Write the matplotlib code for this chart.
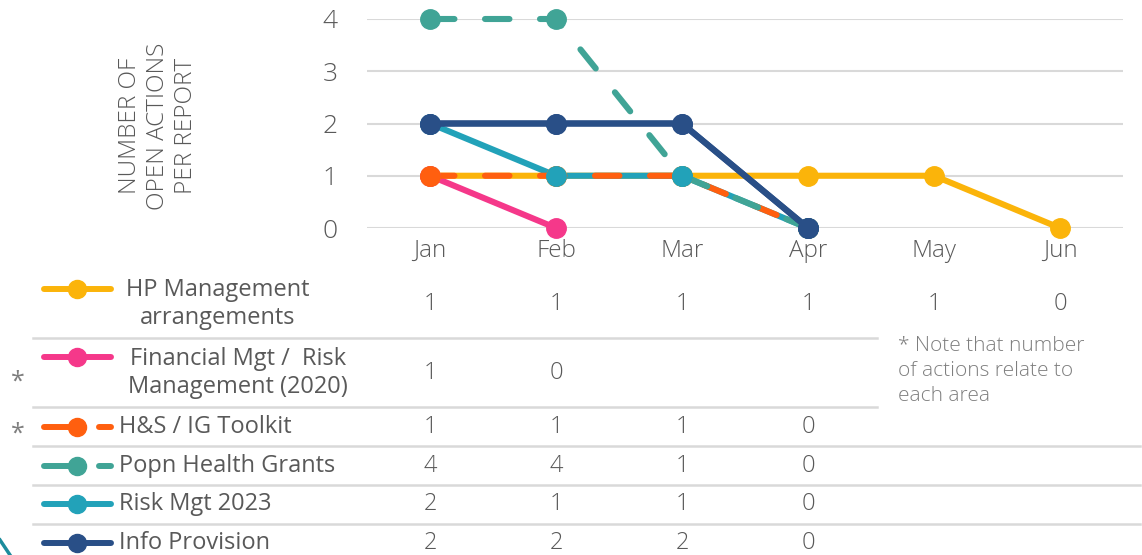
import numpy as np
import matplotlib.pyplot as plt
from matplotlib.lines import Line2D
from matplotlib.transforms import blended_transform_factory

months = ["Jan", "Feb", "Mar", "Apr", "May", "Jun"]
series_names = ["HP Management\narrangements", "Financial Mgt /  Risk\nManagement (2020)",
                "H&S / IG Toolkit", "Popn Health Grants", "Risk Mgt 2023", "Info Provision"]
hp_mgmt = [1, 1, 1, 1, 1, 0]
fin_risk = [1, 0, np.nan, np.nan, np.nan, np.nan]
hs_ig = [1, 1, 1, 0, np.nan, np.nan]
popn_health = [4, 4, 1, 0, np.nan, np.nan]
risk_2023 = [2, 1, 1, 0, np.nan, np.nan]
info_prov = [2, 2, 2, 0, np.nan, np.nan]
starred = [False, True, True, False, False, False]
note = "* Note that number\nof actions relate to\neach area"

colors = ["#FBB40A", "#F5388A", "#FF5F0F", "#40A496", "#22A2B9", "#294F87"]
dashed = [False, False, True, True, False, False]
all_series = [hp_mgmt, fin_risk, hs_ig, popn_health, risk_2023, info_prov]

plt.rcParams['font.family'] = ['Open Sans', 'DejaVu Sans']
gray = "#595959"

W, H = 1142, 555
fig = plt.figure(figsize=(W / 100, H / 100), dpi=100)
ax = fig.add_axes([367 / W, 1 - 228 / H, 756 / W, 209 / H])

x = np.arange(len(months))
# lines: dashed H&S drawn over Risk Mgt 2023 as in the original
line_order = [0, 1, 4, 2, 3, 5]
for k, i in enumerate(line_order):
    ls = (0, (4, 5)) if dashed[i] else "-"
    ax.plot(x, all_series[i], color=colors[i], lw=4.4, ls=ls,
            solid_capstyle="round", dash_capstyle="round", clip_on=False, zorder=3 + k * 0.1)
for i, (vals, c) in enumerate(zip(all_series, colors)):
    ax.plot(x, vals, color=c, lw=0, marker="o", ms=14, clip_on=False, zorder=4 + i * 0.1)
# keep the dark blue line above the other markers
ax.plot(x, info_prov, color=colors[5], lw=4.4, marker="o", ms=14,
        solid_capstyle="round", clip_on=False, zorder=5)

ax.set_xlim(-0.5, len(months) - 0.5)
ax.set_ylim(0, 4)
ax.set_yticks(range(5))
ax.set_xticks(x)
ax.set_xticklabels(months)
ax.grid(axis="y", color="#D9D9D9", lw=1.5)
ax.set_axisbelow(True)
for s in ax.spines.values():
    s.set_visible(False)
ax.tick_params(axis="y", length=0, pad=21, labelsize=19, labelcolor=gray)
ax.tick_params(axis="x", length=0, pad=8, labelsize=17.5, labelcolor=gray)
for t in ax.get_yticklabels() + ax.get_xticklabels():
    t.set_fontweight("light")

fig.text(158 / W, 1 - 126 / H, "NUMBER OF\nOPEN ACTIONS\nPER REPORT", rotation=90,
         ha="center", va="center", fontsize=17.5, color=gray, fontweight="light",
         linespacing=1.25)

# data table below the chart
row_y = [304, 373, 427, 466, 504, 543]
sep_y = [338, 407, 446, 485, 524]
sep_end = [877, 877, 1140, 1140, 1140]
trans = blended_transform_factory(ax.transData, fig.transFigure)
for yy, xe in zip(sep_y, sep_end):
    fig.add_artist(Line2D([33 / W, xe / W], [1 - yy / H] * 2, color="#D9D9D9", lw=1.8))

for i, (name, vals, c, d) in enumerate(zip(series_names, all_series, colors, dashed)):
    yf = 1 - row_y[i] / H
    if i == 0:
        yk = 1 - 289 / H
    elif i == 1:
        yk = 1 - 357 / H
    else:
        yk = yf
    if d:
        fig.add_artist(Line2D([44 / W, 77 / W], [yk, yk], color=c, lw=4.3, solid_capstyle="round"))
        fig.add_artist(Line2D([99 / W, 111 / W], [yk, yk], color=c, lw=4.3, solid_capstyle="round"))
    else:
        fig.add_artist(Line2D([44 / W, 111 / W], [yk, yk], color=c, lw=4.3, solid_capstyle="round"))
    fig.add_artist(Line2D([77 / W], [yk], color=c, marker="o", ms=13, lw=0))
    ha = "left"
    tx = 119 / W
    if i < 2:
        ha = "center"
        tx = 238 / W if i == 1 else 218 / W
    fig.text(tx, yf, name, ha=ha, va="center", fontsize=17, color=gray,
             linespacing=1.27, multialignment="center")
    if starred[i]:
        fig.text(18 / W, 1 - (382 if i == 1 else 434) / H, "*", ha="center", va="center",
                 fontsize=18, color="#7F7F7F")
    for j, v in enumerate(vals):
        if not np.isnan(v):
            ax.text(j, yf, f"{int(v)}", transform=trans, ha="center", va="center",
                    fontsize=17, color=gray, fontweight="light")

fig.text(898 / W, 1 - 336 / H, note, ha="left", va="top", fontsize=15,
         color="#7F7F7F", linespacing=1.33, fontweight="light")

# slide background arc in the lower-left corner
fig.add_artist(Line2D([0, 10 / W], [1 - 540 / H, 0], color="#1C8C9C", lw=2.5))

fig.savefig("out.png", dpi=100)
